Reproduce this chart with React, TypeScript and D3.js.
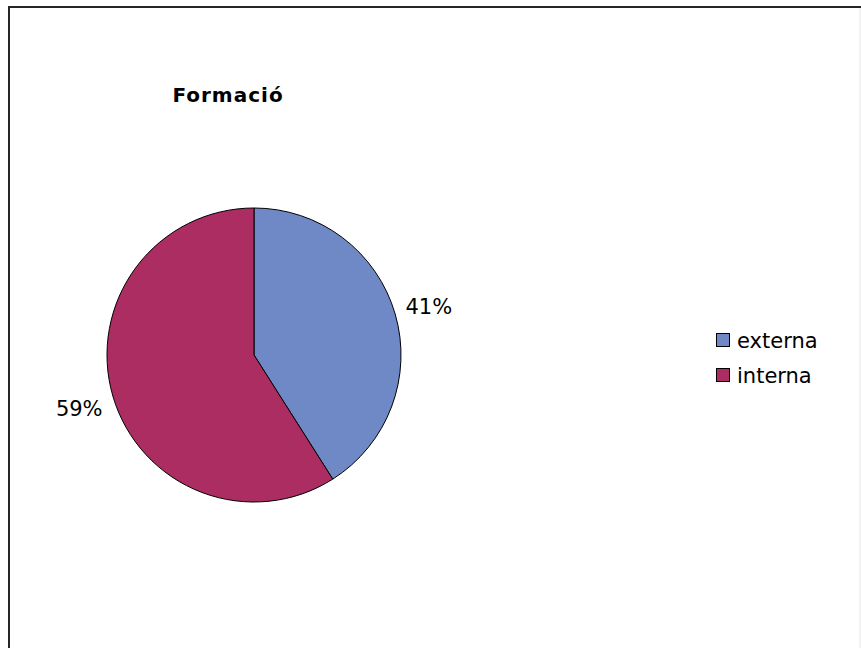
import React from "react";
import * as d3 from "d3";

const categories = ["externa", "interna"];
const values = [41, 59];
const labels = ["41%", "59%"];
const colors = ["#6F88C6", "#AB2D62"];
const title = "Formació";

const W = 861;
const H = 648;

export default function App() {
  const cx = 254;
  const cy = 355;
  const r = 147;
  const pie = d3
    .pie<number>()
    .sort(null)
    .value((d) => d)
    .startAngle(0)
    .endAngle(2 * Math.PI);
  const arcs = pie(values);
  const arc = d3.arc<d3.PieArcDatum<number>>().innerRadius(0).outerRadius(r);
  const labelArc = d3
    .arc<d3.PieArcDatum<number>>()
    .innerRadius(182)
    .outerRadius(182);
  const font = "'DejaVu Sans', Verdana, sans-serif";

  return (
    <svg
      width={W}
      height={H}
      style={{ position: "absolute", left: 0, top: 0, background: "#fff" }}
    >
      <rect x={0} y={0} width={W} height={H} fill="#fff" />
      <path d={`M9,${H + 5} L9,7 L${W + 5},7`} fill="none" stroke="#262626" strokeWidth={2} />
      <line x1={860} y1={8} x2={860} y2={H} stroke="#e6e6e6" strokeWidth={1} />
      <text
        x={228}
        y={102}
        textAnchor="middle"
        fontFamily={font}
        fontWeight="bold"
        fontSize={20}
        letterSpacing={1}
        fill="#000"
      >
        {title}
      </text>
      <g transform={`translate(${cx},${cy})`}>
        {arcs.map((a, i) => (
          <path key={i} d={arc(a) || ""} fill={colors[i]} stroke="#000" strokeWidth={1} />
        ))}
        {arcs.map((a, i) => {
          const [lx, ly] = labelArc.centroid(a);
          return (
            <text
              key={"l" + i}
              x={lx}
              y={ly + 3}
              textAnchor="middle"
              dominantBaseline="central"
              fontFamily={font}
              fontSize={21}
              fill="#000"
            >
              {labels[i]}
            </text>
          );
        })}
      </g>
      <g>
        {categories.map((c, i) => (
          <g key={c} transform={`translate(716,${333 + i * 35})`}>
            <rect x={0.5} y={0.5} width={13} height={13} fill={colors[i]} stroke="#000" strokeWidth={1} />
            <text x={21} y={14.5} fontFamily={font} fontSize={21} fill="#000">
              {c}
            </text>
          </g>
        ))}
      </g>
    </svg>
  );
}
